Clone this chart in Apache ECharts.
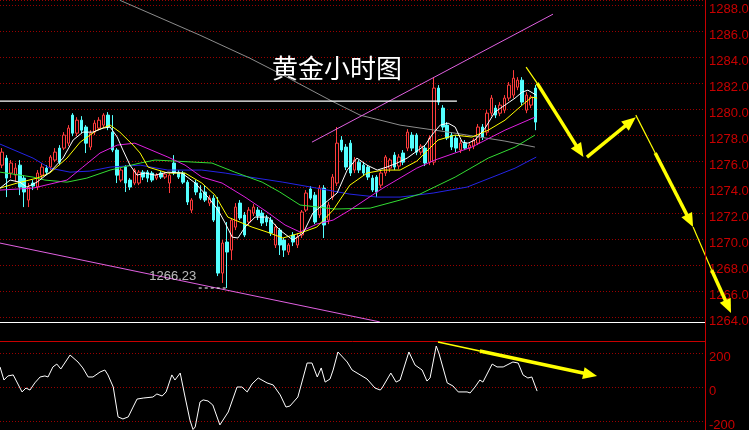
<!DOCTYPE html>
<html><head><meta charset="utf-8">
<script src="https://cdn.jsdelivr.net/npm/echarts@6/dist/echarts.min.js"></script>
<style>html,body{margin:0;padding:0;background:#000;overflow:hidden}#c{width:749px;height:430px}</style>
</head><body><div id="c"></div>
<script>
// ---- data ----
const titleText = '黄金小时图';
const slotCount = 160;
const categories = Array.from({length: slotCount}, (_, i) => 'H' + i);
// [open, close, low, high]
const candles = [
[1275.69,1276.69,1275.46,1277.00],[1276.23,1274.69,1273.23,1276.46],[1275.08,1275.85,1274.69,1276.08],[1274.92,1275.46,1274.38,1275.85],
[1275.69,1274.00,1273.38,1276.08],[1274.69,1273.62,1272.46,1274.92],[1273.00,1274.00,1272.46,1274.31],[1274.31,1274.08,1273.77,1274.54],
[1274.00,1275.08,1273.77,1275.31],[1274.92,1275.54,1274.69,1275.85],[1275.46,1275.15,1274.92,1275.69],[1275.54,1276.31,1275.31,1276.46],
[1276.08,1276.69,1275.92,1277.00],[1277.00,1275.92,1275.69,1277.23],[1277.00,1278.00,1276.85,1278.23],[1277.38,1278.54,1277.15,1278.77],
[1279.54,1278.15,1277.92,1279.69],[1278.15,1279.15,1277.92,1279.38],[1279.15,1278.38,1278.15,1279.46],[1278.62,1277.38,1276.62,1278.77],
[1277.08,1278.15,1276.85,1278.38],[1278.23,1278.92,1278.00,1279.15],[1278.54,1279.15,1278.38,1279.38],[1278.77,1279.54,1278.54,1279.69],
[1279.54,1278.62,1278.38,1279.77],[1278.23,1276.85,1276.69,1279.54],[1276.85,1274.92,1274.31,1277.00],[1274.54,1275.31,1274.38,1275.46],
[1275.54,1274.31,1273.62,1275.69],[1274.54,1274.00,1273.77,1274.69],[1274.31,1275.31,1274.15,1275.46],[1274.31,1275.15,1274.15,1275.31],
[1275.15,1274.77,1274.54,1275.31],[1275.15,1274.69,1274.38,1275.31],[1275.08,1274.54,1274.38,1275.23],[1274.69,1274.92,1274.54,1275.08],
[1275.08,1274.77,1274.62,1275.23],[1274.77,1275.00,1274.62,1275.15],[1274.31,1274.92,1273.54,1275.08],[1275.85,1275.08,1274.92,1276.46],
[1275.15,1274.77,1274.62,1275.31],[1275.08,1274.38,1274.23,1275.23],[1274.38,1272.85,1272.62,1274.54],[1272.23,1273.00,1272.00,1273.15],
[1274.31,1273.62,1273.38,1274.54],[1273.54,1273.15,1273.00,1274.15],[1273.62,1273.00,1272.85,1274.15],[1272.77,1273.15,1272.54,1273.38],
[1273.15,1271.46,1271.31,1273.38],[1272.46,1267.38,1267.15,1273.23],[1267.38,1269.69,1266.62,1269.92],[1269.77,1269.00,1266.23,1271.31],
[1269.15,1271.46,1268.38,1271.62],[1270.92,1272.46,1270.69,1272.77],[1272.77,1271.62,1271.46,1273.00],[1271.85,1270.31,1270.15,1272.08],
[1271.31,1272.23,1271.08,1272.46],[1272.00,1272.46,1271.77,1272.69],[1272.23,1271.77,1271.46,1272.46],[1272.00,1271.23,1271.00,1272.23],
[1271.62,1271.31,1271.00,1271.85],[1271.46,1270.46,1270.23,1271.69],[1269.54,1270.92,1269.31,1271.15],[1270.69,1269.54,1268.77,1270.85],
[1269.92,1269.15,1268.62,1270.08],[1269.00,1269.54,1268.77,1269.69],[1270.31,1269.77,1269.46,1270.54],[1269.54,1270.15,1269.31,1270.46],
[1270.31,1272.08,1270.08,1272.23],[1272.23,1273.54,1272.08,1273.77],[1273.85,1273.15,1273.00,1274.08],[1273.38,1271.31,1271.15,1273.62],
[1271.85,1273.92,1271.62,1274.15],[1273.92,1271.08,1270.08,1274.15],[1271.46,1272.62,1271.15,1272.85],[1273.23,1274.77,1273.00,1275.00],
[1274.31,1277.38,1274.08,1278.62],[1277.62,1276.85,1276.69,1277.92],[1277.08,1275.54,1275.31,1277.31],[1277.38,1275.08,1274.85,1277.62],
[1275.31,1276.08,1275.08,1276.31],[1275.92,1275.31,1275.08,1276.08],[1275.69,1275.08,1274.85,1275.92],[1275.54,1274.77,1274.54,1275.69],
[1274.69,1273.77,1273.62,1274.92],[1274.77,1273.62,1273.23,1274.92],[1274.15,1275.08,1273.92,1275.23],[1275.08,1276.31,1274.85,1276.46],
[1275.46,1276.08,1275.15,1276.23],[1276.46,1275.54,1275.31,1276.69],[1275.62,1276.31,1275.38,1276.54],[1276.62,1275.92,1275.69,1276.85],
[1277.00,1278.23,1276.77,1278.46],[1278.00,1277.00,1276.77,1278.23],[1278.00,1276.69,1276.46,1278.15],[1276.69,1277.15,1276.46,1277.31],
[1277.00,1275.85,1275.62,1277.23],[1275.92,1277.77,1275.69,1278.00],[1275.92,1281.62,1275.69,1282.46],[1281.62,1280.54,1280.31,1281.85],
[1280.08,1278.62,1278.38,1280.31],[1278.77,1277.77,1277.62,1279.00],[1278.00,1277.08,1276.85,1278.23],[1277.77,1277.00,1276.69,1278.00],
[1276.85,1277.38,1276.62,1277.62],[1277.38,1277.00,1276.85,1277.62],[1277.00,1277.23,1276.77,1277.46],[1277.15,1277.62,1276.92,1277.77],
[1277.38,1278.62,1277.23,1278.85],[1278.62,1277.85,1277.62,1278.85],[1278.23,1279.69,1278.00,1279.92],[1279.69,1280.85,1279.46,1281.08],
[1280.08,1279.54,1279.31,1280.31],[1279.69,1280.31,1279.46,1280.54],[1279.92,1280.85,1279.69,1281.08],[1280.85,1281.85,1280.62,1282.08],
[1281.08,1282.38,1280.85,1283.00],[1281.69,1282.23,1281.46,1282.46],[1282.23,1280.54,1280.31,1282.46],[1279.92,1281.08,1279.69,1281.31],
[1280.31,1280.92,1280.08,1281.08],[1281.62,1279.00,1278.38,1281.85]
];
// moving averages, [slot, price]
const ma5 = [[-0.5,1273.92],[1.8,1274.54],[4.0,1274.38],[5.6,1274.00],[7.9,1274.38],[10.8,1275.15],[13.8,1276.23],[16.1,1277.62],[18.3,1278.23],[20.6,1278.23],[22.9,1278.54],[24.5,1278.62],[26.1,1277.85],[27.4,1276.85],[29.0,1275.69],[30.6,1274.92],[32.4,1275.08],[34.7,1274.92],[37.6,1275.15],[40.8,1275.08],[43.8,1274.31],[46.7,1273.23],[49.0,1272.23],[50.6,1271.23],[52.2,1270.15],[53.5,1270.08],[55.1,1270.92],[57.4,1271.69],[60.3,1271.69],[63.0,1270.69],[66.0,1269.92],[68.3,1270.46],[70.5,1272.00],[76.0,1273.54],[78.3,1275.31],[80.5,1276.23],[82.8,1275.69],[85.1,1275.31],[87.3,1275.54],[89.6,1275.85],[91.9,1276.23],[96.0,1277.23],[97.5,1278.00],[99.4,1278.77],[101.2,1278.92],[102.8,1278.62],[104.4,1277.46],[105.7,1277.38],[107.3,1277.62],[109.6,1278.54],[111.8,1279.77],[114.1,1280.31],[116.4,1280.85],[118.0,1281.31],[119.3,1281.46],[121.2,1281.08]];
const ma10 = [[-0.5,1273.92],[3.4,1274.31],[7.9,1274.69],[10.8,1275.08],[14.7,1276.23],[17.7,1277.46],[21.5,1278.38],[24.5,1278.77],[26.7,1278.23],[29.7,1277.23],[31.3,1276.62],[33.1,1275.54],[37.6,1275.08],[41.5,1275.08],[45.3,1274.31],[48.3,1273.38],[51.2,1271.69],[56.7,1270.92],[60.1,1270.54],[63.7,1270.08],[67.6,1270.46],[71.4,1270.92],[75.1,1272.23],[78.9,1274.15],[82.8,1275.08],[86.4,1275.31],[90.3,1275.31],[94.1,1276.00],[98.9,1277.62],[102.8,1278.00],[106.6,1277.85],[110.3,1278.38],[114.1,1279.15],[118.0,1280.31],[120.2,1280.92],[121.4,1280.85]];
const ma20 = [[-0.5,1273.77],[7.0,1273.92],[14.7,1274.54],[18.3,1275.54],[22.2,1276.62],[26.1,1277.23],[30.1,1277.38],[37.6,1276.31],[41.5,1275.69],[45.3,1274.77],[49.9,1274.31],[55.1,1273.23],[60.1,1272.08],[64.2,1271.08],[67.6,1270.54],[71.4,1271.15],[75.1,1271.46],[78.9,1272.23],[86.4,1273.92],[94.1,1275.46],[98.2,1276.08],[106.6,1277.08],[114.1,1278.38],[120.9,1279.38]];
const ma40 = [[-0.5,1275.15],[7.0,1274.77],[9.7,1274.54],[14.7,1274.38],[19.2,1274.69],[24.5,1275.31],[31.3,1275.85],[34.7,1276.08],[39.2,1276.00],[47.6,1275.85],[52.8,1275.15],[59.0,1274.38],[63.0,1273.62],[67.6,1272.62],[75.5,1272.31],[83.5,1272.38],[90.3,1273.00],[94.8,1273.46],[102.8,1274.77],[110.3,1276.23],[116.4,1277.08],[120.9,1278.00]];
const ma60 = [[-0.5,1277.31],[7.0,1276.23],[10.8,1275.46],[15.4,1275.15],[19.9,1275.23],[24.5,1275.54],[31.3,1275.69],[37.6,1275.31],[45.3,1275.31],[50.6,1275.08],[56.2,1274.77],[63.7,1274.38],[71.4,1273.92],[78.9,1273.46],[85.1,1273.23],[90.3,1273.23],[97.8,1273.54],[105.5,1274.00],[113.0,1275.00],[116.4,1275.46],[121.2,1276.31]];
const maLong = [[26.7,1288.38],[44.9,1285.69],[56.2,1283.92],[63.7,1282.62],[74.4,1280.69],[81.2,1279.54],[90.3,1278.77],[98.2,1278.38],[102.8,1278.15],[114.1,1277.54],[120.9,1277.08]];
// drawn trend lines
const channelUpper = [[70.3,1277.46],[125.0,1287.31]];
const channelLower = [[-0.5,1269.69],[85.7,1263.62]];
const resistance = [[-0.5,1280.62],[103.2,1280.62]];
const lowValue = 1266.23;
const lowMarker = [[44.6,lowValue],[51.2,lowValue]];
// forecast arrows [x1, y1, x2, y2]
const arrowThin = [[118.9,1283.23,121.4,1282.0],[143.8,1279.54,148.2,1276.62],[156.8,1270.92,161.0,1267.62]];
const arrowThick = [[121.4,1282.0,131.9,1276.31],[132.7,1276.31,143.8,1279.38],[148.2,1276.62,156.8,1270.92],[161.0,1267.62,165.4,1264.31]];
// CCI panel
const cci = [[-0.5,118],[0.4,41],[1.3,65],[2.5,71],[4.5,-29],[5.4,-6],[6.3,-18],[7.4,24],[8.6,59],[9.7,65],[10.4,59],[11.5,118],[12.4,135],[13.3,106],[15.4,188],[17.2,147],[18.3,112],[19.5,59],[20.6,59],[22.2,88],[23.3,100],[24.0,71],[25.2,0],[26.3,-176],[27.4,-188],[28.6,-176],[29.7,-118],[30.6,-71],[32.0,-65],[34.2,-59],[35.1,-41],[36.3,-53],[37.2,-29],[38.5,71],[39.2,41],[40.4,82],[41.5,-59],[42.6,-194],[43.3,-250],[43.8,-235],[44.9,-88],[45.6,-76],[46.7,-82],[47.8,-106],[49.4,-223],[51.3,-147],[53.3,0],[54.4,0],[55.6,-29],[56.7,18],[58.1,53],[60.1,24],[61.5,12],[63.1,-47],[64.4,-118],[65.3,-112],[67.1,-59],[69.2,141],[70.3,141],[71.5,59],[72.4,112],[73.3,29],[74.4,47],[75.1,100],[76.2,206],[78.3,147],[79.4,100],[82.8,47],[84.6,-6],[85.8,-18],[86.2,-6],[88.2,82],[89.4,29],[90.3,41],[92.3,206],[93.7,129],[95.3,100],[96.4,35],[97.1,53],[98.5,241],[99.1,200],[101.0,24],[102.3,6],[103.5,-29],[105.5,-29],[106.2,-35],[107.3,0],[108.4,41],[109.1,29],[111.2,135],[112.3,118],[113.7,118],[115.9,147],[117.1,141],[118.2,71],[119.3,53],[120.2,59],[121.4,-24]];
const cciArrowThin = [[98.9,265,108.4,212]];
const cciArrowThick = [[108.4,212,135.0,65]];

// ---- chart ----
const RED = '#c80000', GRIDRED = '#9a0000', YEL = '#ffff00';
const chart = echarts.init(document.getElementById('c'), null, {renderer: 'canvas'});

function arrowSeries(segs, width, head, xi, yi) {
  return {
    type: 'custom', xAxisIndex: xi, yAxisIndex: yi, clip: false, silent: true, z: 20,
    data: segs, animation: false,
    renderItem: function (params, api) {
      const p1 = api.coord([api.value(0), api.value(1)]);
      const p2 = api.coord([api.value(2), api.value(3)]);
      const ch = [];
      let ex = p2[0], ey = p2[1];
      const dx = p2[0] - p1[0], dy = p2[1] - p1[1];
      const L = Math.hypot(dx, dy) || 1, ux = dx / L, uy = dy / L;
      const hl = 14, hw = 6;
      if (head) { ex = p2[0] - ux * (hl - 2); ey = p2[1] - uy * (hl - 2); }
      ch.push({type: 'line', shape: {x1: p1[0], y1: p1[1], x2: ex, y2: ey}, style: {stroke: YEL, lineWidth: width, lineCap: 'butt'}});
      if (head) {
        const bx = p2[0] - ux * hl, by = p2[1] - uy * hl;
        ch.push({type: 'polygon', shape: {points: [[p2[0], p2[1]], [bx - uy * hw, by + ux * hw], [bx + uy * hw, by - ux * hw]]}, style: {fill: YEL}});
      }
      return {type: 'group', children: ch};
    }
  };
}
function lineS(data, color, z, extra) {
  return Object.assign({type: 'line', xAxisIndex: 1, yAxisIndex: 0, data: data, symbol: 'none', silent: true,
    clip: false, z: z || 5, lineStyle: {color: color, width: 1}, animation: false}, extra || {});
}

const option = {
  backgroundColor: '#000',
  animation: false,
  title: {text: titleText, left: 267, top: 50, textStyle: {color: '#fff', fontSize: 26, fontWeight: 'normal', fontFamily: 'Noto Sans CJK SC'}},
  grid: [
    {left: 0, right: 44, top: 0, bottom: 113, outerBoundsMode: 'none', containLabel: false},
    {left: 0, right: 44, top: 341.1, bottom: -25, outerBoundsMode: 'none', containLabel: false}
  ],
  xAxis: [
    {type: 'category', gridIndex: 0, data: categories, boundaryGap: true, show: false},
    {type: 'value', gridIndex: 0, min: -0.5, max: slotCount - 0.5, show: false},
    {type: 'value', gridIndex: 1, min: -0.5, max: slotCount - 0.5, position: 'top',
      axisLine: {show: true, onZero: false, lineStyle: {color: RED, width: 1}},
      axisTick: {show: false}, axisLabel: {show: false}, splitLine: {show: false}}
  ],
  yAxis: [
    {type: 'value', gridIndex: 0, position: 'right', min: 1264, max: 1288.4, interval: 2, scale: true,
      axisLine: {show: true, onZero: false, lineStyle: {color: RED}}, axisTick: {show: false},
      axisLabel: {color: RED, fontSize: 13, fontFamily: 'Liberation Sans', margin: 4, showMaxLabel: false, showMinLabel: true,
        verticalAlign: 'top', lineHeight: 8, formatter: v => v.toFixed(1)},
      splitLine: {show: true, lineStyle: {color: GRIDRED, type: [1, 2], width: 1}}},
    {type: 'value', gridIndex: 1, position: 'right', min: -400, max: 270, interval: 200,
      axisLine: {show: true, onZero: false, lineStyle: {color: RED}}, axisTick: {show: false},
      axisLabel: {color: RED, fontSize: 13, fontFamily: 'Liberation Sans', margin: 4, showMaxLabel: false, showMinLabel: false,
        verticalAlign: 'top', lineHeight: 8, formatter: v => String(v)},
      splitLine: {show: true, lineStyle: {color: GRIDRED, type: [1, 2], width: 1}}}
  ],
  graphic: [
    {type: 'line', shape: {x1: 705.5, y1: 0, x2: 705.5, y2: 430}, style: {stroke: RED, lineWidth: 1}, z: 50, silent: true},
    {type: 'line', shape: {x1: 0, y1: 322.5, x2: 705, y2: 322.5}, style: {stroke: '#ffffff', lineWidth: 1.2}, z: 50, silent: true},
    {type: 'rect', shape: {x: 706, y: 327, width: 43, height: 13}, style: {fill: '#000'}, z: 50, silent: true}
  ],
  series: [
    {type: 'candlestick', xAxisIndex: 0, yAxisIndex: 0, data: candles, barWidth: 3, z: 3, silent: true,
      itemStyle: {color: '#000', color0: '#54ffff', borderColor: '#ff3c3c', borderColor0: '#54ffff', borderWidth: 1}},
    lineS(maLong, '#8c8c8c', 4),
    lineS(ma60, '#2424e6', 4),
    lineS(ma40, '#33dd33', 4),
    lineS(ma20, '#e020e0', 4),
    lineS(ma10, '#ffff00', 4),
    lineS(ma5, '#ffffff', 4),
    lineS(channelUpper, '#e060e0', 6),
    lineS(channelLower, '#e060e0', 6),
    lineS(resistance, '#ffffff', 6, {lineStyle: {color: '#ffffff', width: 1.3}}),
    lineS(lowMarker, '#ffffff', 7, {lineStyle: {color: '#ffffff', width: 1, type: [3, 3]}}),
    {type: 'scatter', xAxisIndex: 1, yAxisIndex: 0, data: [lowMarker[0]], symbolSize: 1, silent: true, z: 8,
      itemStyle: {color: 'rgba(0,0,0,0)'},
      label: {show: true, position: 'left', distance: 2, offset: [0, -12], color: '#e6e6e6', fontSize: 13,
        fontFamily: 'Liberation Sans', formatter: () => lowValue.toFixed(2)}},
    arrowSeries(arrowThin, 1.2, false, 1, 0),
    arrowSeries(arrowThick, 3.5, true, 1, 0),
    {type: 'line', xAxisIndex: 2, yAxisIndex: 1, data: cci, symbol: 'none', silent: true, z: 5,
      lineStyle: {color: '#ffffff', width: 1}},
    arrowSeries(cciArrowThin, 1.5, false, 2, 1),
    arrowSeries(cciArrowThick, 3.5, true, 2, 1)
  ]
};
chart.setOption(option);
</script>
</body></html>
